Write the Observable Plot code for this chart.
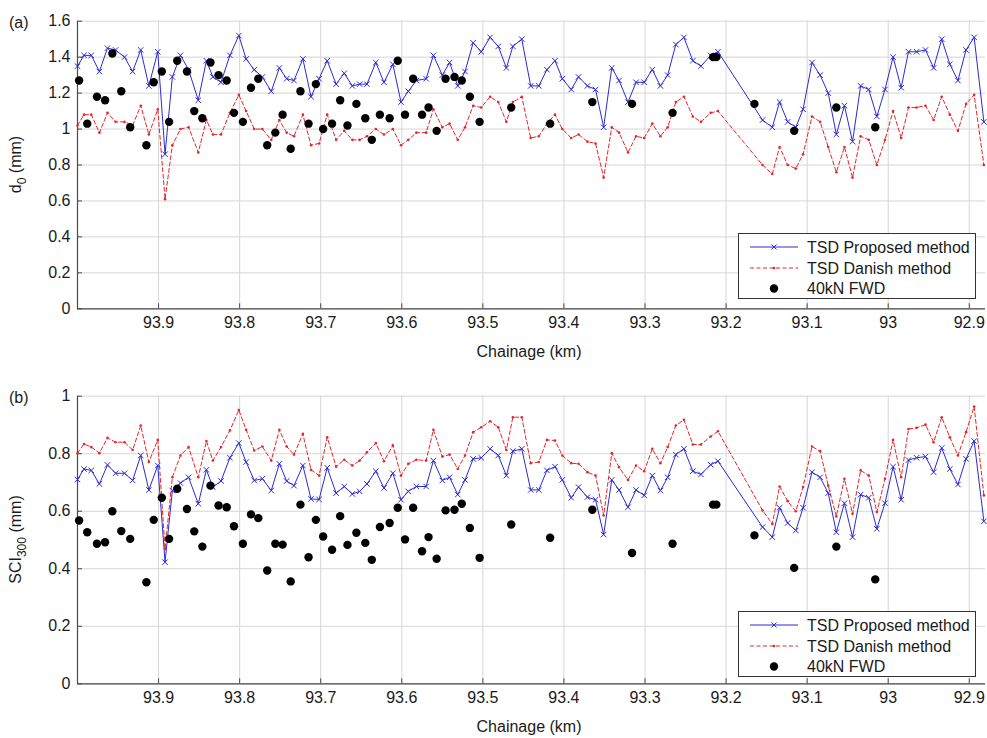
<!DOCTYPE html>
<html><head><meta charset="utf-8">
<script src="https://cdn.jsdelivr.net/npm/d3@7"></script>
<script src="https://cdn.jsdelivr.net/npm/@observablehq/plot@0.6"></script>
<style>
body{margin:0;background:#fff;font-family:"Liberation Sans",Arial,sans-serif;}
#wrap{position:relative;width:987px;height:738px;overflow:hidden;}
.abs{position:absolute;}
</style></head><body><div id="wrap"></div>
<script>
// ---- data ----
const chainage = [94.000,93.992,93.983,93.973,93.963,93.953,93.942,93.932,93.922,93.912,93.901,93.892,93.883,93.873,93.863,93.851,93.841,93.833,93.823,93.812,93.801,93.792,93.782,93.772,93.761,93.751,93.742,93.733,93.722,93.712,93.702,93.692,93.681,
93.671,93.661,93.652,93.643,93.632,93.622,93.611,93.601,93.592,93.582,93.570,93.561,93.550,93.541,93.531,93.522,93.512,93.502,93.491,93.481,93.471,93.463,93.452,93.441,93.431,93.421,93.411,93.402,93.391,93.382,93.371,93.361,93.351,93.341,93.332,93.321,93.311,93.301,93.291,93.281,93.272,
93.262,93.252,93.241,93.231,93.219,93.210,93.155,93.143,93.134,93.124,93.114,93.105,93.094,93.084,93.074,93.064,93.054,93.044,93.034,93.024,93.014,93.004,92.994,92.984,92.975,92.965,92.954,92.944,92.934,92.924,92.914,92.904,92.894,92.882];

const d0Proposed = [1.35,1.41,1.41,1.32,1.45,1.44,1.40,1.32,1.44,1.24,1.43,0.86,1.29,1.41,1.33,1.16,1.38,1.29,1.26,1.41,1.52,1.39,1.33,1.29,1.21,1.34,1.28,1.27,1.39,1.18,1.28,1.38,1.25,
1.31,1.24,1.25,1.25,1.37,1.26,1.36,1.15,1.21,1.27,1.28,1.41,1.30,1.37,1.24,1.32,1.48,1.43,1.51,1.46,1.34,1.46,1.50,1.24,1.24,1.33,1.38,1.28,1.22,1.29,1.24,1.22,1.01,1.34,1.27,1.15,1.26,1.26,1.33,1.24,1.30,
1.47,1.51,1.38,1.35,1.41,1.43,1.05,1.01,1.15,1.04,1.01,1.11,1.37,1.30,1.20,0.97,1.13,0.93,1.24,1.22,1.07,1.22,1.40,1.23,1.43,1.43,1.44,1.34,1.50,1.36,1.27,1.44,1.51,1.04];

const d0Danish = [1.02,1.08,1.08,0.98,1.09,1.04,1.04,1.02,1.13,0.97,1.11,0.61,0.91,1.00,1.01,0.87,1.05,0.97,0.97,1.09,1.19,1.10,1.00,1.00,0.94,1.05,0.98,0.96,1.08,0.91,0.92,1.08,0.94,
0.99,0.94,0.94,0.96,1.00,0.97,1.00,0.91,0.94,0.98,0.98,1.11,1.01,1.03,0.94,1.01,1.13,1.12,1.18,1.15,1.04,1.15,1.18,0.95,0.96,1.03,1.08,1.00,0.95,0.97,0.93,0.92,0.73,1.01,0.98,0.87,0.96,0.95,1.03,0.96,1.01,
1.15,1.18,1.07,1.04,1.09,1.10,0.80,0.75,0.90,0.80,0.78,0.86,1.07,1.04,0.90,0.76,0.90,0.73,0.96,0.94,0.80,0.94,1.10,0.95,1.12,1.12,1.13,1.05,1.18,1.08,0.99,1.14,1.19,0.80];

const sciProposed = [0.710,0.747,0.742,0.695,0.761,0.732,0.732,0.707,0.794,0.674,0.759,0.423,0.672,0.698,0.718,0.626,0.744,0.684,0.705,0.786,0.837,0.771,0.707,0.713,0.672,0.765,0.705,0.689,0.759,0.643,0.641,0.751,0.663,
0.686,0.660,0.669,0.695,0.739,0.681,0.732,0.640,0.669,0.686,0.686,0.776,0.707,0.718,0.658,0.709,0.782,0.786,0.817,0.794,0.724,0.809,0.817,0.674,0.674,0.742,0.755,0.709,0.647,0.684,0.649,0.640,0.519,0.709,0.674,0.614,0.674,0.655,0.724,0.672,0.718,
0.797,0.817,0.739,0.728,0.762,0.774,0.545,0.510,0.612,0.559,0.533,0.612,0.736,0.718,0.663,0.527,0.628,0.510,0.658,0.647,0.539,0.628,0.755,0.640,0.778,0.786,0.790,0.736,0.820,0.747,0.693,0.782,0.844,0.565];

const sciDanish = [0.802,0.834,0.823,0.802,0.855,0.840,0.840,0.813,0.898,0.771,0.848,0.469,0.718,0.794,0.823,0.718,0.844,0.776,0.823,0.881,0.952,0.883,0.811,0.825,0.776,0.883,0.825,0.797,0.869,0.744,0.724,0.857,0.755,
0.779,0.759,0.776,0.805,0.837,0.774,0.829,0.724,0.765,0.779,0.776,0.883,0.790,0.797,0.747,0.794,0.875,0.892,0.913,0.892,0.813,0.927,0.927,0.767,0.771,0.848,0.846,0.794,0.767,0.765,0.736,0.724,0.585,0.802,0.753,0.709,0.759,0.739,0.817,0.767,0.823,
0.898,0.918,0.832,0.832,0.860,0.878,0.603,0.556,0.686,0.635,0.600,0.684,0.825,0.809,0.689,0.582,0.713,0.591,0.742,0.724,0.597,0.713,0.848,0.718,0.886,0.890,0.901,0.840,0.927,0.857,0.794,0.875,0.964,0.655];

const fwdChainage = [93.998,93.988,93.976,93.966,93.957,93.946,93.935,93.915,93.906,93.896,93.887,93.877,93.865,93.856,93.846,93.836,93.826,93.816,93.807,93.796,93.786,93.777,93.766,93.756,93.747,93.737,93.725,93.715,93.706,93.697,93.686,93.676,
93.667,93.656,93.645,93.637,93.627,93.615,93.605,93.596,93.586,93.575,93.567,93.557,93.546,93.535,93.526,93.516,93.504,93.465,93.417,93.365,93.316,93.266,
93.216,93.212,93.165,93.116,93.064,93.016];

const fwdD0 = [1.27,1.03,1.18,1.16,1.42,1.21,1.01,0.91,1.26,1.32,1.04,1.38,1.32,1.10,1.06,1.37,1.30,1.27,1.09,1.04,1.23,1.28,0.91,0.98,1.08,0.89,1.21,1.03,1.25,1.00,1.03,1.16,
1.02,1.14,1.06,0.94,1.08,1.06,1.38,1.08,1.28,1.08,1.12,0.99,1.28,1.29,1.27,1.18,1.04,1.12,1.03,1.15,1.14,1.09,
1.40,1.40,1.14,0.99,1.12,1.01];

const fwdSci = [0.568,0.527,0.487,0.492,0.600,0.531,0.504,0.353,0.570,0.647,0.504,0.678,0.608,0.530,0.477,0.689,0.620,0.614,0.548,0.487,0.589,0.576,0.394,0.487,0.484,0.356,0.623,0.440,0.570,0.512,0.466,0.583,
0.483,0.525,0.490,0.431,0.545,0.559,0.612,0.502,0.612,0.461,0.510,0.435,0.603,0.605,0.626,0.542,0.438,0.554,0.508,0.605,0.455,0.487,
0.623,0.623,0.516,0.403,0.477,0.363];

const xTicks = [93.9,93.8,93.7,93.6,93.5,93.4,93.3,93.2,93.1,93,92.9];
const d0Ticks = [0,0.2,0.4,0.6,0.8,1,1.2,1.4,1.6];
const sciTicks = [0,0.2,0.4,0.6,0.8,1];
const xDomain = [94.0, 92.88];
const seriesNames = ["TSD Proposed method","TSD Danish method","40kN FWD"];
const xLabel = "Chainage (km)";

// ---- style ----
const BLUE = "#2b2bd3", RED = "#e5262b", INK = "#1a1a1a", AXIS = "#4a4a4a", GRID = "#d6d6d6";
const FONT = "'Liberation Sans', Arial, sans-serif";
const wrap = document.getElementById("wrap");

function makePanel({top, height, yDomain, yTicks, prop, dan, fwd, tag, ylab, legendTop}) {
  const lineRows = chainage.map((c, i) => ({c, p: prop[i], d: dan[i]}));
  const fwdRows = fwdChainage.map((c, i) => ({c, v: fwd[i]}));
  const plotBottom = 308.3;
  const chart = Plot.plot({
    width: 987, height,
    marginLeft: 77, marginRight: 2, marginTop: 20.7, marginBottom: height - plotBottom,
    x: {domain: xDomain},
    y: {domain: yDomain},
    style: {fontFamily: FONT, fontSize: "16px", color: INK, background: "transparent", overflow: "visible"},
    marks: [
      Plot.gridX(xTicks, {stroke: GRID, strokeOpacity: 1, strokeWidth: 1}),
      Plot.gridY(yTicks, {stroke: GRID, strokeOpacity: 1, strokeWidth: 1}),
      Plot.axisX(xTicks, {tickSize: 0, tickPadding: 8, tickFormat: d => String(d), label: null, fontSize: 16}),
      Plot.axisY(yTicks, {tickSize: 0, tickPadding: 7, tickFormat: d => String(d), label: null, fontSize: 16}),
      Plot.axisX(xTicks, {tickSize: -5, text: null, label: null, stroke: AXIS}),
      Plot.axisY(yTicks, {tickSize: -5, text: null, label: null, stroke: AXIS}),
      Plot.ruleX([xDomain[0]], {stroke: AXIS, strokeWidth: 1.2}),
      Plot.ruleY([yDomain[0]], {stroke: AXIS, strokeWidth: 1.2}),
      Plot.line(lineRows, {x: "c", y: "p", stroke: BLUE, strokeWidth: 1}),
      Plot.dot(lineRows, {x: "c", y: "p", symbol: "times", r: 2.6, stroke: BLUE, strokeWidth: 1}),
      Plot.line(lineRows, {x: "c", y: "d", stroke: RED, strokeWidth: 1, strokeDasharray: "4,2.5"}),
      Plot.dot(lineRows, {x: "c", y: "d", r: 1.3, fill: RED, stroke: null}),
      Plot.dot(fwdRows, {x: "c", y: "v", r: 4.2, fill: "#000", stroke: null})
    ]
  });
  chart.classList.add("abs");
  chart.style.top = top + "px";
  chart.style.left = "0px";
  wrap.appendChild(chart);
  const svg = d3.select(chart);
  // panel tag
  svg.append("text").attr("x", 9).attr("y", 28).attr("text-anchor", "start").attr("font-size", 16)
    .attr("fill", INK).attr("font-family", FONT).text(tag);
  // x label
  svg.append("text").attr("x", 529).attr("y", 357).attr("text-anchor", "middle").attr("font-size", 16)
    .attr("fill", INK).attr("font-family", FONT).text(xLabel);
  // y label with subscript
  const cy = (20.7 + plotBottom) / 2;
  const t = svg.append("text").attr("transform", `translate(21,${cy}) rotate(-90)`).attr("text-anchor", "middle")
    .attr("font-size", 16).attr("fill", INK).attr("font-family", FONT);
  t.append("tspan").text(ylab[0]);
  t.append("tspan").attr("font-size", 12).attr("dy", 5).text(ylab[1]);
  t.append("tspan").attr("dy", -5).text(" " + ylab[2]);

  // legend
  const lg = d3.select(wrap).append("svg").attr("class", "abs")
    .style("left", "738px").style("top", legendTop + "px").attr("width", 238).attr("height", 66);
  lg.append("rect").attr("x", 0.5).attr("y", 0.5).attr("width", 237).attr("height", 65)
    .attr("fill", "#fff").attr("stroke", "#333").attr("stroke-width", 1);
  const rows = [14, 35, 55.5];
  lg.append("line").attr("x1", 12).attr("x2", 60).attr("y1", rows[0]).attr("y2", rows[0]).attr("stroke", BLUE);
  lg.append("path").attr("d", `M33.5,${rows[0]-2.5}L38.5,${rows[0]+2.5}M33.5,${rows[0]+2.5}L38.5,${rows[0]-2.5}`).attr("stroke", BLUE);
  lg.append("line").attr("x1", 12).attr("x2", 60).attr("y1", rows[1]).attr("y2", rows[1]).attr("stroke", RED).attr("stroke-dasharray", "4,2.5");
  lg.append("circle").attr("cx", 36).attr("cy", rows[1]).attr("r", 1.3).attr("fill", RED);
  lg.append("circle").attr("cx", 36).attr("cy", rows[2]).attr("r", 4.2).attr("fill", "#000");
  seriesNames.forEach((s, i) => {
    lg.append("text").attr("x", 69).attr("y", rows[i]).attr("dy", "0.36em").attr("font-size", 16)
      .attr("fill", INK).attr("font-family", FONT).text(s);
  });
}

makePanel({top: 0, height: 369, yDomain: [0, 1.6], yTicks: d0Ticks, prop: d0Proposed, dan: d0Danish, fwd: fwdD0,
  tag: "(a)", ylab: ["d", "0", "(mm)"], legendTop: 233});
makePanel({top: 375, height: 363, yDomain: [0, 1], yTicks: sciTicks, prop: sciProposed, dan: sciDanish, fwd: fwdSci,
  tag: "(b)", ylab: ["SCI", "300", "(mm)"], legendTop: 611});
</script>
</body></html>
